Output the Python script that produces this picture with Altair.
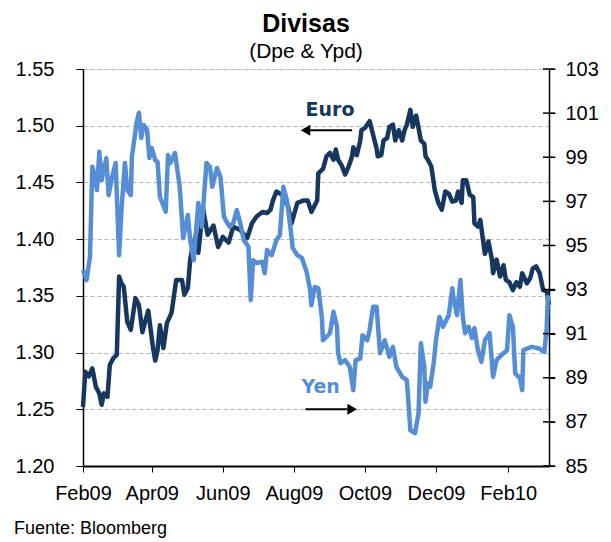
import altair as alt
import pandas as pd

# days since 2009-02-01
euro_days = [0,2,5,8,11,14,16,18,21,23,26,29,31,33,35,38,41,45,48,51,53,56,58,60,62,64,66,69,72,76,
             80,85,87,90,92,94,97,99,103,107,112,116,120,125,129,135,141,145,149,154,158,161,163,166,
             171,176,179,184,189,193,196,201,202,206,209,212,215,217,219,222,225,228,231,232,235,238,
             239,242,246,249,252,253,256,258,261,263,266,268,271,274,276,278,281,283,285,286,290,293,
             294,296,299,302,305,308,311,314,317,320,322,325,326,329,332,335,336,339,341,343,345,348,
             351,352,355,358,361,363,366,369,372,375,377,381,384,386,389,392,395,398,400]
euro_vals = [1.252,1.283,1.279,1.286,1.270,1.264,1.254,1.264,1.261,1.289,1.295,1.298,1.367,1.361,1.358,
             1.327,1.320,1.348,1.342,1.318,1.326,1.337,1.321,1.305,1.293,1.302,1.324,1.304,1.326,1.335,
             1.364,1.364,1.351,1.357,1.382,1.393,1.404,1.388,1.427,1.404,1.412,1.393,1.402,1.397,1.411,
             1.408,1.401,1.414,1.420,1.424,1.423,1.426,1.434,1.442,1.439,1.429,1.414,1.432,1.434,1.434,
             1.424,1.434,1.458,1.462,1.473,1.476,1.470,1.479,1.470,1.465,1.457,1.464,1.473,1.481,1.474,
             1.487,1.496,1.498,1.504,1.492,1.480,1.473,1.474,1.487,1.489,1.499,1.501,1.487,1.496,1.487,
             1.496,1.501,1.514,1.499,1.507,1.509,1.487,1.484,1.473,1.470,1.464,1.443,1.432,1.426,1.442,
             1.440,1.433,1.434,1.442,1.432,1.452,1.452,1.439,1.437,1.414,1.411,1.417,1.402,1.387,1.398,
             1.382,1.370,1.382,1.367,1.377,1.364,1.362,1.355,1.362,1.358,1.370,1.361,1.366,1.374,1.376,
             1.370,1.355,1.354,1.342]

yen_days = [0,3,6,8,10,12,14,16,20,22,25,28,31,33,36,38,41,42,46,48,50,52,55,57,59,62,64,66,71,73,75,
            79,83,86,90,92,95,99,102,106,109,111,115,118,121,124,126,129,132,135,138,142,144,146,149,
            154,156,158,162,166,169,172,175,178,180,184,188,192,195,196,199,202,205,206,212,215,218,
            219,221,225,229,232,234,238,240,244,246,249,252,255,259,263,266,269,274,278,281,285,288,
            290,293,294,296,298,301,303,306,309,314,317,318,321,324,326,328,331,334,336,339,342,345,
            349,352,355,359,364,366,369,371,375,377,378,385,391,396,398,399,400]
yen_vals = [93.88,93.43,94.48,98.57,98.19,97.51,99.25,97.96,98.96,97.28,98.11,98.74,94.56,96.60,98.74,
            97.51,97.28,99.02,100.55,101.02,99.87,100.46,100.23,98.96,99.42,98.87,98.79,97.21,96.53,
            99.10,98.74,99.19,97.66,95.33,96.38,95.24,94.33,96.92,95.85,98.74,98.57,97.66,98.51,98.11,
            96.30,96.01,95.85,96.01,96.60,96.01,95.24,94.94,92.52,94.33,94.20,94.26,93.74,94.79,94.56,
            95.24,95.47,97.66,97.06,95.85,94.88,94.56,94.42,93.79,92.97,92.29,93.12,93.06,91.76,90.70,
            91.02,91.99,91.31,90.11,89.66,89.80,89.49,88.44,89.80,89.87,90.93,90.70,91.16,92.22,92.22,
            90.11,90.70,89.95,90.40,89.49,89.04,88.89,86.62,86.49,87.39,90.57,89.49,87.91,88.75,88.59,
            89.66,90.70,91.76,91.31,91.84,93.06,92.61,91.84,93.43,91.76,91.02,91.31,90.80,91.25,90.25,
            89.72,90.70,91.02,89.04,89.80,90.02,90.25,91.84,91.31,89.21,88.98,88.44,90.25,90.40,90.34,
            90.17,91.25,92.66,92.52]

left_ticks = [1.20, 1.25, 1.30, 1.35, 1.40, 1.45, 1.50, 1.55]
right_ticks = [85, 87, 89, 91, 93, 95, 97, 99, 101, 103]
x_tick_months = [(2009, 2), (2009, 4), (2009, 6), (2009, 8), (2009, 10), (2009, 12), (2010, 2)]

start = pd.Timestamp("2009-02-01")
end = pd.Timestamp("2010-03-08")

NAVY = "#17375E"
LIGHT = "#558ED5"
FONT = "Liberation Sans"
LBL = 20

euro_df = pd.DataFrame({"date": start + pd.to_timedelta(euro_days, unit="D"), "euro": euro_vals})
yen_df = pd.DataFrame({"date": start + pd.to_timedelta(yen_days, unit="D"), "yen": yen_vals})

x_scale = alt.Scale(domain=[alt.DateTime(year=2009, month=2, date=1),
                            alt.DateTime(year=2010, month=3, date=8)])
x_enc = alt.X("date:T", scale=x_scale,
              axis=alt.Axis(values=[alt.DateTime(year=y, month=m, date=1) for y, m in x_tick_months],
                            format="%b%y", title=None, grid=False, domainColor="black",
                            domainWidth=2, tickColor="black", tickSize=6, labelFontSize=LBL,
                            labelFont=FONT, labelColor="black", labelPadding=11,
                            labelOverlap=False, labelFlush=False))

euro_scale = alt.Scale(domain=[1.20, 1.55], nice=False, zero=False)
yen_scale = alt.Scale(domain=[85, 103], nice=False, zero=False)

euro_line = alt.Chart(euro_df).mark_line(color=NAVY, strokeWidth=4.5, strokeJoin="round").encode(
    x=x_enc,
    y=alt.Y("euro:Q", scale=euro_scale,
            axis=alt.Axis(orient="left", values=left_ticks, format=".2f", title=None, grid=True,
                          gridDash=[4, 3], gridColor="#b5b5b5", gridWidth=1, domainColor="black",
                          domainWidth=1.5, tickColor="black", tickSize=7, labelFontSize=LBL,
                          labelFont=FONT, labelColor="black", labelPadding=22,
                          labelOverlap=False)),
)

yen_line = alt.Chart(yen_df).mark_line(color=LIGHT, strokeWidth=4.5, strokeJoin="round").encode(
    x="date:T",
    y=alt.Y("yen:Q", scale=yen_scale,
            axis=alt.Axis(orient="right", values=right_ticks, format="d", title=None, grid=False,
                          domainColor="black", domainWidth=1.5, tickColor="black", tickSize=6,
                          labelFontSize=LBL, labelFont=FONT, labelColor="black", labelPadding=10,
                          labelOverlap=False)),
)

# inner half of the right axis ticks (ticks cross the axis line)
right_tick_df = pd.DataFrame({"date": [end] * len(right_ticks), "yen": right_ticks})
right_inner = alt.Chart(right_tick_df).mark_tick(orient="horizontal", color="black", size=12,
                                                 thickness=1.5, opacity=1).encode(
    x="date:T", y=alt.Y("yen:Q", scale=yen_scale, axis=None))

# annotations (in data coordinates)
euro_lbl = pd.DataFrame({"date": [start + pd.Timedelta(days=212)], "euro": [1.514], "t": ["Euro"]})
euro_arrow = pd.DataFrame({"date": [start + pd.Timedelta(days=195), start + pd.Timedelta(days=231)],
                           "euro": [1.496, 1.496]})
euro_head = pd.DataFrame({"date": [start + pd.Timedelta(days=191)], "euro": [1.496]})

yen_lbl = pd.DataFrame({"date": [start + pd.Timedelta(days=204)], "yen": [88.6], "t": ["Yen"]})
yen_arrow = pd.DataFrame({"date": [start + pd.Timedelta(days=191), start + pd.Timedelta(days=227)],
                          "yen": [87.57, 87.57]})
yen_head = pd.DataFrame({"date": [start + pd.Timedelta(days=231)], "yen": [87.57]})

euro_text = alt.Chart(euro_lbl).mark_text(font="DejaVu Sans", fontSize=19, fontWeight="bold",
                                          color=NAVY).encode(
    x="date:T", y=alt.Y("euro:Q", scale=euro_scale, axis=None), text="t:N")
euro_arr = alt.Chart(euro_arrow).mark_line(color="black", strokeWidth=2).encode(
    x="date:T", y=alt.Y("euro:Q", scale=euro_scale, axis=None))
euro_hd = alt.Chart(euro_head).mark_point(shape="triangle-left", filled=True, color="black",
                                          size=120, opacity=1).encode(
    x="date:T", y=alt.Y("euro:Q", scale=euro_scale, axis=None))

yen_text = alt.Chart(yen_lbl).mark_text(font="DejaVu Sans", fontSize=19, fontWeight="bold",
                                        color=LIGHT).encode(
    x="date:T", y=alt.Y("yen:Q", scale=yen_scale, axis=None), text="t:N")
yen_arr = alt.Chart(yen_arrow).mark_line(color="black", strokeWidth=2).encode(
    x="date:T", y=alt.Y("yen:Q", scale=yen_scale, axis=None))
yen_hd = alt.Chart(yen_head).mark_point(shape="triangle-right", filled=True, color="black",
                                        size=120, opacity=1).encode(
    x="date:T", y=alt.Y("yen:Q", scale=yen_scale, axis=None))

source = alt.Chart(pd.DataFrame({"t": ["Fuente: Bloomberg"]})).mark_text(
    font=FONT, fontSize=18, align="left", baseline="alphabetic", color="black").encode(
    x=alt.value(-69), y=alt.value(465), text="t:N")

chart = alt.layer(
    euro_line, yen_line, right_inner, euro_text, euro_arr, euro_hd, yen_text, yen_arr, yen_hd, source
).resolve_scale(y="independent").properties(
    width=466, height=397,
    autosize=alt.AutoSizeParams(type="none"),
    padding={"left": 75, "top": 61, "right": 54, "bottom": 72},
    title=alt.TitleParams(text="Divisas", subtitle="(Dpe & Ypd)", anchor="middle", dx=-10,
                          font=FONT, fontSize=25, fontWeight="bold", color="black",
                          subtitleFont=FONT, subtitleFontSize=21, subtitleColor="black",
                          subtitlePadding=4, offset=-3),
).configure_view(stroke=None).configure(background="white")

chart.save("out.html", embed_options={"renderer": "svg", "actions": False})
